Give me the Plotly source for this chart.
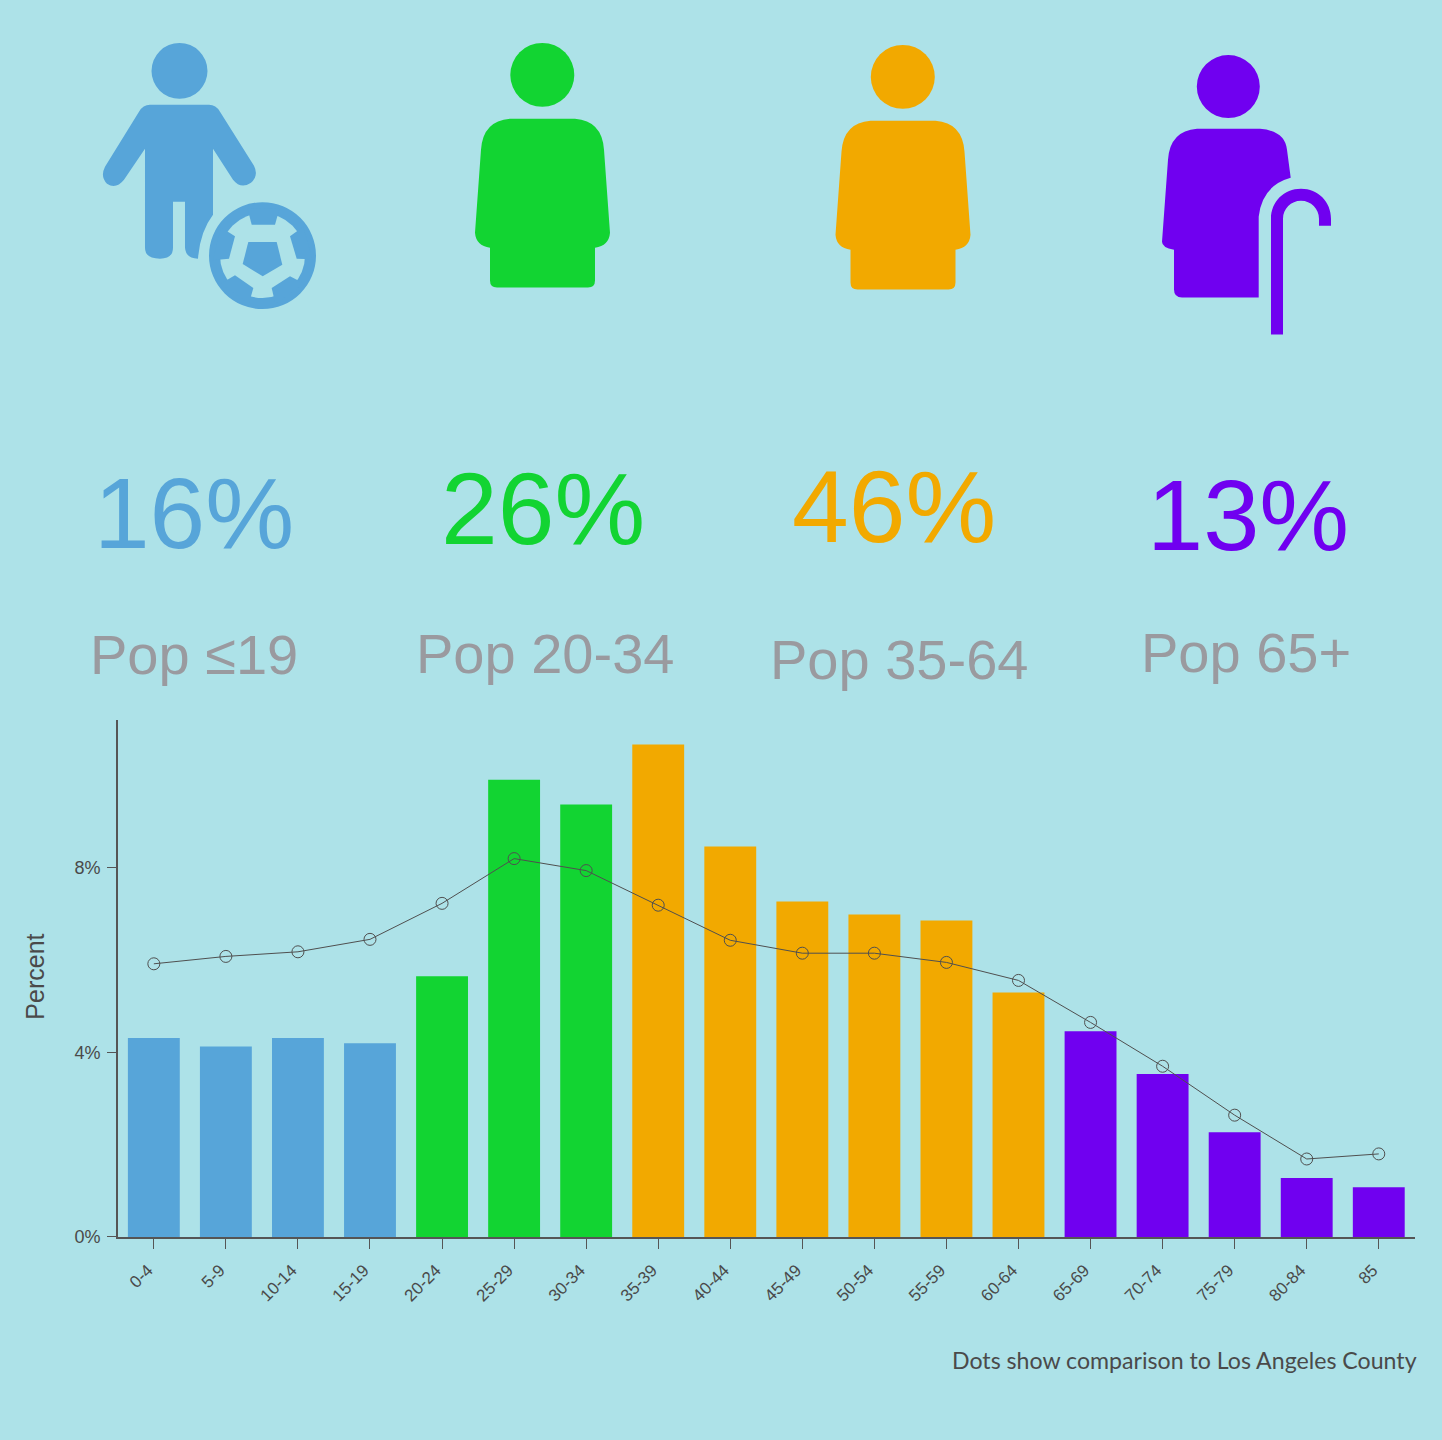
import re
import math
import plotly.graph_objects as go

W, H = 1442, 1440
BG = "#ade2e8"
BLUE, GREEN, ORANGE, PURPLE = "#57a5d9", "#12d432", "#f2a900", "#7000f0"
INK = "#4a4a4a"

age_groups = ["0-4", "5-9", "10-14", "15-19", "20-24", "25-29", "30-34", "35-39", "40-44",
              "45-49", "50-54", "55-59", "60-64", "65-69", "70-74", "75-79", "80-84", "85"]
area_pct = [4.31, 4.13, 4.31, 4.20, 5.65, 9.91, 9.37, 10.67, 8.46,
            7.27, 6.99, 6.86, 5.30, 4.46, 3.53, 2.27, 1.28, 1.08]
county_pct = [5.92, 6.08, 6.18, 6.45, 7.23, 8.20, 7.94, 7.19, 6.43,
              6.15, 6.15, 5.95, 5.56, 4.65, 3.70, 2.64, 1.69, 1.80]
bar_colors = [BLUE] * 4 + [GREEN] * 3 + [ORANGE] * 6 + [PURPLE] * 5
y_ticks = [0, 4, 8]
y_tick_labels = ["0%", "4%", "8%"]

big_labels = ["16%", "26%", "46%", "13%"]
big_colors = [BLUE, GREEN, ORANGE, PURPLE]
big_sizes = [100, 102, 102, 101]
big_x = [194, 543, 894, 1248]
big_y = [514, 510, 508, 516]
sub_labels = ["Pop ≤19", "Pop 20-34", "Pop 35-64", "Pop 65+"]
sub_x = [194, 545, 899, 1246]
sub_y = [655, 654, 660, 653]


def fx(v):
    return v / W


def fy(v):
    return 1 - v / H


def p(d, dx=0, dy=0):
    """Map an icon path from picture pixels to paper coordinates."""
    def repl(m):
        return f"{fx(float(m.group(1)) + dx):.5f},{fy(float(m.group(2)) + dy):.5f}"
    return re.sub(r"(-?[\d.]+)[ ,](-?[\d.]+)", repl, d)


def filled(d, color, dx=0, dy=0):
    return dict(type="path", xref="paper", yref="paper", path=p(d, dx, dy),
                fillcolor=color, line=dict(width=0), layer="above")


def circle(cx, cy, r, color):
    return dict(type="circle", xref="paper", yref="paper",
                x0=fx(cx - r), x1=fx(cx + r), y0=fy(cy + r), y1=fy(cy - r),
                fillcolor=color, line=dict(width=0), layer="above")


CHILD = ("M150 105 L209 105 Q216 105 220 112 L254 166 Q259 176 251 183 Q241 190 233 180 "
         "L213 149 L213 215 Q200 232 198 259 Q186 259 185 248 L185 202 L173 202 L173 248 "
         "Q173 259 160 259 Q145 259 145 248 L145 149 L124 180 Q116 190 107 184 Q100 177 105 167 "
         "L139 112 Q143 105 150 105 Z")
ADULT = ("M510 119 L575 119 Q602 121 604 150 L610 233 Q609 246 595 248 L595 281 Q595 288 588 288 "
         "L497 288 Q490 288 490 281 L490 248 Q476 246 475 233 L481 150 Q483 121 510 119 Z")
SENIOR = ("M1197 129 L1260 129 Q1285 131 1287 150 L1290.7 178 Q1262 186 1258.7 217 L1258.7 298 "
          "L1182 298 Q1174 298 1174 290 L1174 250 Q1162 248 1162 242 L1168 160 Q1170 131 1197 129 Z")
CANE = ("M1271 335 L1271 219 C1271 202 1284 189 1301 189 C1318 189 1331 202 1331 219 L1331 226 "
        "L1319 226 L1319 219 C1319 209 1311 201 1301 201 C1291 201 1283 209 1283 219 L1283 335 Z")


def ball_patch(points):
    """Blue rim patch of the ball, from zoomed coordinates, pushed out to the rim."""
    out = []
    for zx, zy, push in points:
        x, y = 80 + zx / 3, 30 + zy / 3
        if push:
            ang = math.atan2(y - 256, x - 262.5)
            x, y = 262.5 + 50 * math.cos(ang), 256 + 50 * math.sin(ang)
        out.append(f"{x:.2f} {y:.2f}")
    return "M" + " L".join(out) + " Z"


ball_patches = [
    [(510, 560, 1), (515, 585, 0), (585, 585, 0), (590, 560, 1)],
    [(440, 605, 1), (465, 620, 0), (447, 687, 0), (420, 690, 1)],
    [(650, 605, 1), (630, 620, 0), (650, 687, 0), (675, 687, 1)],
    [(440, 750, 1), (465, 737, 0), (520, 775, 0), (513, 800, 1)],
    [(580, 800, 1), (575, 775, 0), (630, 740, 0), (655, 750, 1)],
]
ball_centre = "M248.3 242.3 L276.7 242.3 L282.3 265 L262.7 276.7 L242.7 264.3 Z"

shapes = [
    circle(179.5, 71, 28, BLUE), filled(CHILD, BLUE),
    circle(262.5, 256, 53.5, BLUE), circle(262.5, 256, 42.5, BG),
    *[filled(ball_patch(b), BLUE) for b in ball_patches], filled(ball_centre, BLUE),
    circle(542.3, 75, 32, GREEN), filled(ADULT, GREEN),
    circle(902.8, 77, 32, ORANGE), filled(ADULT, ORANGE, 360.5, 2),
    circle(1228.3, 86.7, 31.5, PURPLE), filled(SENIOR, PURPLE), filled(CANE, PURPLE),
]

annotations = []
for t, c, s, x, y in zip(big_labels, big_colors, big_sizes, big_x, big_y):
    annotations.append(dict(text=t, x=fx(x), y=fy(y), xref="paper", yref="paper", showarrow=False,
                            xanchor="center", yanchor="middle",
                            font=dict(family="Liberation Sans", size=s, color=c)))
for t, x, y in zip(sub_labels, sub_x, sub_y):
    annotations.append(dict(text=t, x=fx(x), y=fy(y), xref="paper", yref="paper", showarrow=False,
                            xanchor="center", yanchor="middle",
                            font=dict(family="Liberation Sans", size=56, color="#9a9a9f")))
annotations.append(dict(text="Percent", x=fx(35), y=fy(978), xref="paper", yref="paper",
                        showarrow=False, textangle=-90, xanchor="center", yanchor="middle",
                        font=dict(family="Liberation Sans", size=25, color=INK)))
annotations.append(dict(text="Dots show comparison to Los Angeles County", x=fx(1418.5), y=fy(1362),
                        xref="paper", yref="paper", showarrow=False, xanchor="right", yanchor="middle",
                        font=dict(family="Lato", size=23.15, color=INK)))

fig = go.Figure()
fig.add_bar(x=age_groups, y=area_pct, marker=dict(color=bar_colors, line=dict(width=0)),
            width=0.72, showlegend=False)
fig.add_scatter(x=age_groups, y=county_pct, mode="lines+markers", showlegend=False,
                line=dict(color="#4f4f4f", width=1),
                marker=dict(symbol="circle-open", size=12, color="#4f4f4f", line=dict(width=1, color="#4f4f4f")))

fig.update_layout(
    width=W, height=H + 8, autosize=False, margin=dict(l=0, r=0, t=0, b=0, pad=0),
    paper_bgcolor=BG, plot_bgcolor=BG, shapes=shapes, annotations=annotations,
    xaxis=dict(domain=[fx(117.8), fx(1414.8)], range=[-0.5, 17.5], type="category", tickangle=-45,
               showgrid=False, zeroline=False, showline=True, linecolor="#555555", linewidth=1.5,
               ticks="outside", ticklen=10, tickwidth=1.2, tickcolor="#555555", ticklabelshift=-6,
               ticklabelstandoff=5,
               tickfont=dict(family="Liberation Sans", size=17, color=INK)),
    yaxis=dict(domain=[fy(1238.7), fy(720.7)], range=[0, 11.21], tickmode="array", tickvals=y_ticks,
               ticktext=y_tick_labels, ticklabelstandoff=3,
               showgrid=False, zeroline=False, showline=True, linecolor="#555555", linewidth=1.5,
               ticks="outside", ticklen=9, tickwidth=1.2, tickcolor="#555555",
               tickfont=dict(family="Liberation Sans", size=18, color=INK)),
)

fig.write_html("out.html", default_width=f"{W}px", default_height=f"{H + 8}px",
               config=dict(displayModeBar=False, responsive=False),
               post_script="document.body.style.margin='0';")
